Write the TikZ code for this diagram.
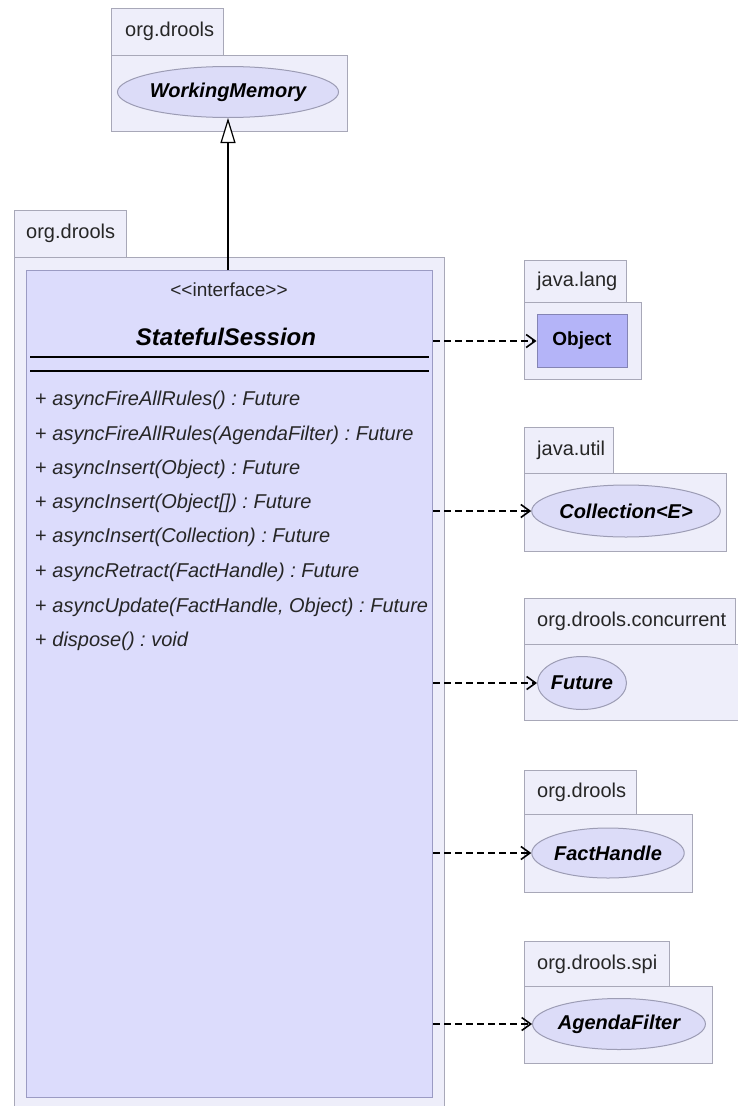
\documentclass[tikz,border=0pt]{standalone}
\usepackage{fontspec}
\setmainfont{Liberation Sans}
\usetikzlibrary{arrows.meta,shapes.geometric}
\definecolor{pkgfill}{HTML}{EEEEFA}
\definecolor{pkgline}{HTML}{A8A8B8}
\definecolor{ifill}{HTML}{DCDCFC}
\definecolor{iline}{HTML}{9B9BC3}
\definecolor{efill}{HTML}{DCDCF8}
\definecolor{eline}{HTML}{9C9CB4}
\definecolor{ofill}{HTML}{B4B4F8}
\definecolor{oline}{HTML}{8484B4}
\tikzset{
  pkg/.style={draw=pkgline,fill=pkgfill,line width=1pt},
  pkglabel/.style={anchor=west,font=\fontsize{20}{22}\selectfont,text=black!85,inner sep=0pt},
  iface/.style={draw=iline,fill=ifill,line width=1pt,inner sep=0pt,anchor=north west},
  cls/.style={ellipse,draw=eline,fill=efill,line width=1pt,inner sep=0pt,
    font=\fontsize{20}{22}\selectfont\bfseries\itshape},
  member/.style={anchor=west,inner sep=0pt,font=\fontsize{20}{22}\selectfont,text=black!85},
  dep/.style={dashed,dash pattern=on 7pt off 4pt,line width=1.2pt,
    -{Straight Barb[length=9pt,width=13pt,line width=1.6pt]}},
  gen/.style={line width=1.2pt,-{Triangle[open,length=25pt,width=15pt,fill=white]}}
}
\frenchspacing
\begin{document}
\begin{tikzpicture}[x=1pt,y=-1pt]
  \useasboundingbox (0,0) rectangle (738,1106);
  \clip (0,0) rectangle (738,1106);
  % package of WorkingMemory
  \draw[pkg] (111,8) rectangle (223,55);
  \draw[pkg] (111,55) rectangle (347,131);
  \node[pkglabel] (pwm) at (125,31) {org.drools};
  \node[cls,minimum width=210pt,minimum height=51pt] (wm) at (228,92) {WorkingMemory};
  % outer package
  \draw[pkg] (14,210) rectangle (126,257);
  \draw[pkg] (14,257) rectangle (444,1120);
  \node[pkglabel] (pss) at (26,233) {org.drools};
  % the interface
  \node[iface,minimum width=406pt,minimum height=827pt] (sess) at (26,270) {};
  \node[inner sep=0pt,font=\fontsize{19}{21}\selectfont,text=black!85] (stereo) at (229,290)
    {\textless{}\textless{}interface\textgreater{}\textgreater};
  \node[inner sep=0pt,font=\fontsize{24}{26}\selectfont\bfseries\itshape] (sname) at (226,337) {StatefulSession};
  \draw[line width=1.2pt] (30,357) -- (429,357);
  \draw[line width=1.2pt] (30,371) -- (429,371);
  \node[member] (m1) at (35,400) {+ \textit{asyncFireAllRules() : Future}};
  \node[member] (m2) at (35,435) {+ \textit{asyncFireAllRules(AgendaFilter) : Future}};
  \node[member] (m3) at (35,469) {+ \textit{asyncInsert(Object) : Future}};
  \node[member] (m4) at (35,503) {+ \textit{asyncInsert(Object[]) : Future}};
  \node[member] (m5) at (35,537) {+ \textit{asyncInsert(Collection) : Future}};
  \node[member] (m6) at (35,572) {+ \textit{asyncRetract(FactHandle) : Future}};
  \node[member] (m7) at (35,607) {+ \textit{asyncUpdate(FactHandle, Object) : Future}};
  \node[member] (m8) at (35,641) {+ \textit{dispose() : void}};
  % java.lang
  \draw[pkg] (524,260) rectangle (626,302);
  \draw[pkg] (524,302) rectangle (641,379);
  \node[pkglabel] (plang) at (537,281) {java.lang};
  \node[draw=oline,fill=ofill,line width=1pt,minimum width=90pt,minimum height=53pt,
    font=\fontsize{19}{21}\selectfont\bfseries] (obj) at (582,341) {Object};
  % java.util
  \draw[pkg] (524,427) rectangle (613,473);
  \draw[pkg] (524,473) rectangle (726,551);
  \node[pkglabel] (putil) at (537,450) {java.util};
  \node[cls,minimum width=177pt,minimum height=52pt] (coll) at (626,511) {Collection<E>};
  % org.drools.concurrent
  \draw[pkg] (524,598) rectangle (735,644);
  \draw[pkg] (524,644) rectangle (760,720);
  \node[pkglabel] (pconc) at (537,621) {org.drools.concurrent};
  \node[cls,minimum width=89pt,minimum height=53pt] (fut) at (582,683) {Future};
  % org.drools
  \draw[pkg] (524,770) rectangle (636,814);
  \draw[pkg] (524,814) rectangle (692,892);
  \node[pkglabel] (pdrl) at (537,792) {org.drools};
  \node[cls,minimum width=140pt,minimum height=50pt] (fh) at (608,853) {FactHandle};
  % org.drools.spi
  \draw[pkg] (524,941) rectangle (669,986);
  \draw[pkg] (524,986) rectangle (712,1063);
  \node[pkglabel] (pspi) at (537,964) {org.drools.spi};
  \node[cls,minimum width=162pt,minimum height=51pt] (af) at (619,1024) {AgendaFilter};
  % connectors
  \draw[gen] (sess.north -| wm.south) -- (wm.south);
  \draw[dep] (sess.east |- obj.west) -- (obj.west);
  \draw[dep] (sess.east |- coll.west) -- (coll.west);
  \draw[dep] (sess.east |- fut.west) -- (fut.west);
  \draw[dep] (sess.east |- fh.west) -- (fh.west);
  \draw[dep] (sess.east |- af.west) -- (af.west);
\end{tikzpicture}
\end{document}
